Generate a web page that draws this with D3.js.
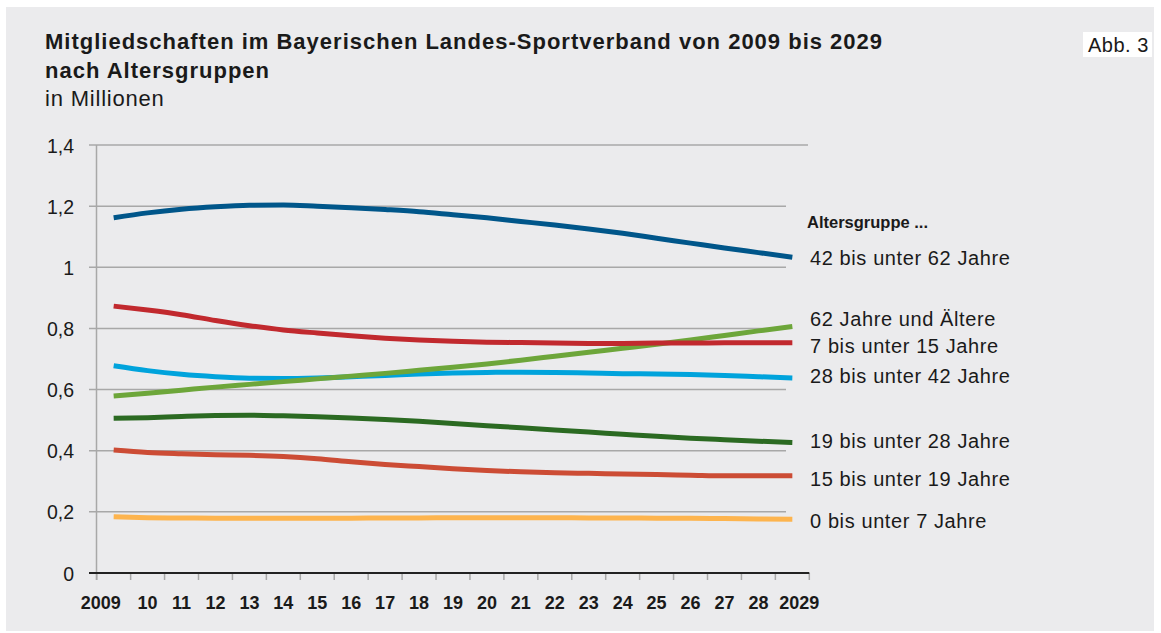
<!DOCTYPE html>
<html><head><meta charset="utf-8">
<script src="https://cdn.jsdelivr.net/npm/d3@7"></script>
<style>
html,body{margin:0;padding:0;background:#fff;}
svg{display:block;font-family:"Liberation Sans",Arial,Helvetica,sans-serif;}
</style></head>
<body>
<svg id="chart" width="1161" height="633"></svg>
<script>
// ---- data ----
const years = d3.range(2009, 2030);
const yearLabels = ["2009","10","11","12","13","14","15","16","17","18","19","20","21","22","23","24","25","26","27","28","2029"];
const yTicks = [0, 0.2, 0.4, 0.6, 0.8, 1.0, 1.2, 1.4];
const yTickLabels = ["0","0,2","0,4","0,6","0,8","1","1,2","1,4"];
const seriesNames = ["42 bis unter 62 Jahre","62 Jahre und Ältere","7 bis unter 15 Jahre","28 bis unter 42 Jahre","19 bis unter 28 Jahre","15 bis unter 19 Jahre","0 bis unter 7 Jahre"];
const s42bis62 = [1.162,1.178,1.190,1.198,1.203,1.204,1.200,1.195,1.189,1.182,1.172,1.162,1.150,1.138,1.125,1.111,1.095,1.079,1.063,1.048,1.033];
const s62plus  = [0.579,0.588,0.598,0.608,0.617,0.626,0.635,0.644,0.653,0.663,0.673,0.684,0.696,0.709,0.722,0.735,0.748,0.762,0.777,0.792,0.806];
const s7bis15  = [0.873,0.860,0.845,0.826,0.809,0.795,0.785,0.776,0.768,0.762,0.758,0.755,0.754,0.752,0.751,0.751,0.752,0.752,0.753,0.753,0.753];
const s28bis42 = [0.678,0.662,0.650,0.642,0.637,0.636,0.638,0.642,0.646,0.651,0.654,0.656,0.657,0.656,0.654,0.652,0.651,0.649,0.646,0.642,0.638];
const s19bis28 = [0.506,0.508,0.512,0.515,0.516,0.514,0.511,0.507,0.502,0.496,0.489,0.482,0.475,0.468,0.461,0.454,0.447,0.441,0.436,0.431,0.427];
const s15bis19 = [0.402,0.394,0.390,0.387,0.385,0.381,0.374,0.364,0.355,0.348,0.341,0.335,0.331,0.328,0.326,0.324,0.322,0.320,0.318,0.318,0.318];
const s0bis7   = [0.184,0.181,0.180,0.179,0.179,0.179,0.179,0.179,0.180,0.180,0.181,0.181,0.181,0.181,0.180,0.180,0.179,0.179,0.178,0.177,0.176];

// ---- styles / layout ----
const seriesValues = [s42bis62, s62plus, s7bis15, s28bis42, s19bis28, s15bis19, s0bis7];
const colors = ["#00568a","#6da63a","#c1292e","#00a3dc","#2b6a22","#cc4c35","#fdb44e"];
const labelBaselines = [265, 326, 353, 383, 448, 486, 528];

const svg = d3.select("#chart");
svg.append("rect").attr("x",6).attr("y",7).attr("width",1148).attr("height",624).attr("fill","#ebebed");

// title
svg.append("text").attr("x",45).attr("y",49).attr("font-size",22).attr("letter-spacing",1.0).attr("font-weight","bold").attr("fill","#1a1a1a")
  .text("Mitgliedschaften im Bayerischen Landes-Sportverband von 2009 bis 2029");
svg.append("text").attr("x",45).attr("y",78).attr("font-size",22).attr("letter-spacing",1.0).attr("font-weight","bold").attr("fill","#1a1a1a")
  .text("nach Altersgruppen");
svg.append("text").attr("x",45).attr("y",106).attr("font-size",22).attr("letter-spacing",0.8).attr("fill","#1a1a1a").text("in Millionen");

// Abb. 3
svg.append("rect").attr("x",1083).attr("y",32).attr("width",69).attr("height",25).attr("fill","#fff");
svg.append("text").attr("x",1088).attr("y",52).attr("font-size",20).attr("letter-spacing",0.5).attr("fill","#1a1a1a").text("Abb. 3");

const x = d3.scaleBand().domain(years).range([96.7, 809.3]).padding(0);
const y = d3.scaleLinear().domain([0, 1.4]).range([573, 145]);

// gridlines
const grid = svg.append("g");
yTicks.forEach((t,i) => {
  if (t === 0) return;
  grid.append("line").attr("x1",89).attr("x2", t === 1.4 ? 808 : 786)
    .attr("y1",y(t)).attr("y2",y(t)).attr("stroke","#a8a8a8").attr("stroke-width",1.5);
});
// left axis line
svg.append("line").attr("x1",96.5).attr("x2",96.5).attr("y1",y(1.4)).attr("y2",y(0)+7).attr("stroke","#a8a8a8").attr("stroke-width",1.5);

// y labels
const yAxis = d3.axisLeft(y).tickValues(yTicks).tickFormat((d,i)=>yTickLabels[i]).tickSize(0).tickPadding(0);
const gy = svg.append("g").attr("transform","translate(74,0)").call(yAxis);
gy.select(".domain").remove();
gy.selectAll("text").attr("font-size",19.5).attr("fill","#1a1a1a").attr("font-family","Liberation Sans, Arial, sans-serif").attr("dy","0.36em");

// x axis
const xTickPos = years.map(yv => x(yv)).concat([x(2029)+x.bandwidth()]);
const tickG = svg.append("g");
xTickPos.forEach(p => {
  tickG.append("line").attr("x1",p).attr("x2",p).attr("y1",y(0)).attr("y2",y(0)+7).attr("stroke","#a8a8a8").attr("stroke-width",1.5);
});
const xAxis = d3.axisBottom(x).tickFormat((d,i)=>yearLabels[i]).tickSize(0).tickPadding(0);
const gx = svg.append("g").attr("transform",`translate(0,${y(0)})`).call(xAxis);
gx.select(".domain").remove();
gx.selectAll("text").attr("font-size",18).attr("font-weight","bold").attr("fill","#1a1a1a")
  .attr("font-family","Liberation Sans, Arial, sans-serif").attr("y",36).attr("dy",0)
  .attr("dx",(d,i)=> i===0 ? -13 : (i===years.length-1 ? 7 : 0));
svg.append("line").attr("x1",89).attr("x2",809.3).attr("y1",y(0)).attr("y2",y(0)).attr("stroke","#222").attr("stroke-width",2.2);

// lines
const line = d3.line().x((d,i)=>x(years[i]) + x.bandwidth()/2).y(d=>y(d)).curve(d3.curveMonotoneX);
const drawOrder = [6,5,4,3,1,2,0];
drawOrder.forEach(k => {
  svg.append("path").datum(seriesValues[k]).attr("d",line).attr("fill","none")
    .attr("stroke",colors[k]).attr("stroke-width",5).attr("stroke-linecap","butt");
});

// legend labels
svg.append("text").attr("x",807).attr("y",228).attr("font-size",16.5).attr("font-weight","bold").attr("fill","#1a1a1a").text("Altersgruppe ...");
seriesNames.forEach((n,k) => {
  svg.append("text").attr("x",810).attr("y",labelBaselines[k]).attr("font-size",20).attr("letter-spacing",0.6).attr("fill","#1a1a1a").text(n);
});
</script>
</body></html>
